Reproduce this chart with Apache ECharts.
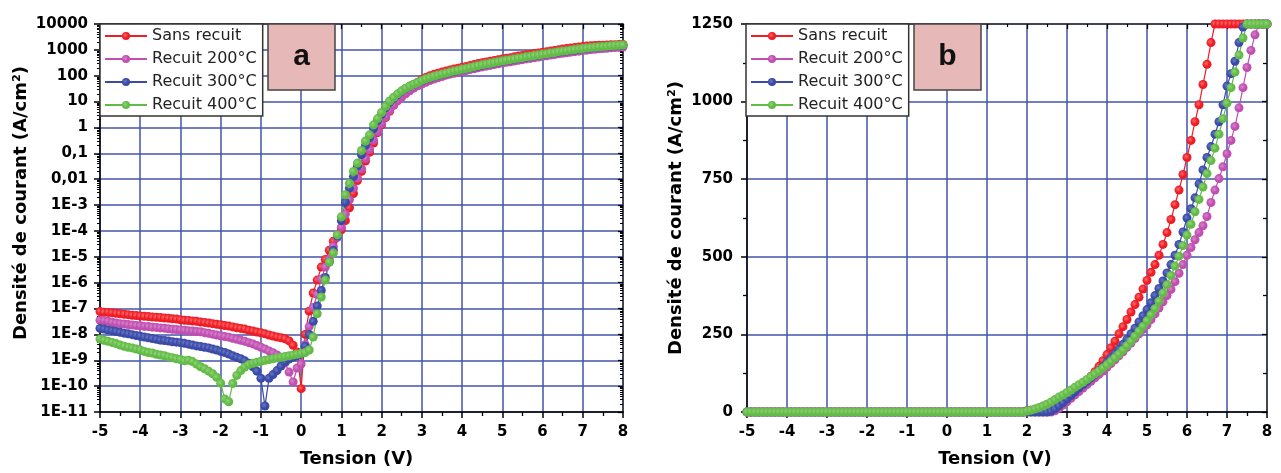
<!DOCTYPE html>
<html><head><meta charset="utf-8">
<script src="https://cdn.jsdelivr.net/npm/echarts@6/dist/echarts.min.js"></script>
<style>html,body{margin:0;padding:0;background:#fff}#c{width:1281px;height:473px}</style>
</head><body><div id="c"></div>
<script>
// ---------- DATA ----------
const voltage = [
-5.0,-4.9,-4.8,-4.7,-4.6,-4.5,-4.4,-4.3,-4.2,-4.1,
-4.0,-3.9,-3.8,-3.7,-3.6,-3.5,-3.4,-3.3,-3.2,-3.1,
-3.0,-2.9,-2.8,-2.7,-2.6,-2.5,-2.4,-2.3,-2.2,-2.1,
-2.0,-1.9,-1.8,-1.7,-1.6,-1.5,-1.4,-1.3,-1.2,-1.1,
-1.0,-0.9,-0.8,-0.7,-0.6,-0.5,-0.4,-0.3,-0.2,-0.1,
0.0,
0.1,0.2,0.3,0.4,0.5,0.6,0.7,0.8,0.9,1.0,
1.1,1.2,1.3,1.4,1.5,1.6,1.7,1.8,1.9,2.0,
2.1,2.2,2.3,2.4,2.5,2.6,2.7,2.8,2.9,3.0,
3.1,3.2,3.3,3.4,3.5,3.6,3.7,3.8,3.9,4.0,
4.1,4.2,4.3,4.4,4.5,4.6,4.7,4.8,4.9,5.0,
5.1,5.2,5.3,5.4,5.5,5.6,5.7,5.8,5.9,6.0,
6.1,6.2,6.3,6.4,6.5,6.6,6.7,6.8,6.9,7.0,
7.1,7.2,7.3,7.4,7.5,7.6,7.7,7.8,7.9,8.0
];

const seriesNames = ['Sans recuit', 'Recuit 200°C', 'Recuit 300°C', 'Recuit 400°C'];

// Panel a : current density (A/cm²), log scale
const aSans = [
7.6e-8,7.2e-8,7.1e-8,6.8e-8,6.5e-8,6.3e-8,6.0e-8,5.8e-8,5.5e-8,5.4e-8,
5.1e-8,5.0e-8,4.9e-8,4.7e-8,4.6e-8,4.5e-8,4.3e-8,4.2e-8,4.0e-8,3.9e-8,
3.7e-8,3.5e-8,3.45e-8,3.3e-8,3.2e-8,3.0e-8,2.9e-8,2.75e-8,2.6e-8,2.45e-8,
2.35e-8,2.2e-8,2.1e-8,1.95e-8,1.8e-8,1.7e-8,1.6e-8,1.45e-8,1.35e-8,1.23e-8,
1.15e-8,1.05e-8,9.5e-9,8.7e-9,7.9e-9,7.4e-9,6.8e-9,5.6e-9,3.8e-9,2.1e-9,
8e-11,
1e-8,7.9e-8,4e-7,1.26e-6,4e-6,7.9e-6,1.8e-5,4e-5,7e-5,1.1e-4,
2.5e-4,7.9e-4,2.8e-3,8.9e-3,0.02,0.05,0.11,0.25,0.63,1.26,
2.4,4.2,7.4,11.5,17,24,33,44,56,72,
86,100,113,126,138,151,166,181,194,214,
229,251,269,294,316,338,362,389,416,446,
478,500,536,575,601,644,674,724,757,811,
850,911,953,1021,1069,1120,1172,1228,1286,1346,
1400,1440,1470,1500,1520,1540,1560,1580,1600,1620
];
const a200 = [
3.5e-8,3.4e-8,3.2e-8,2.95e-8,2.75e-8,2.6e-8,2.5e-8,2.4e-8,2.3e-8,2.2e-8,
2.14e-8,2.04e-8,2.0e-8,1.9e-8,1.86e-8,1.78e-8,1.74e-8,1.66e-8,1.58e-8,1.55e-8,
1.48e-8,1.45e-8,1.38e-8,1.35e-8,1.29e-8,1.26e-8,1.17e-8,1.1e-8,1.02e-8,9.5e-9,
8.9e-9,8.3e-9,7.8e-9,7.1e-9,6.5e-9,5.9e-9,5.4e-9,4.8e-9,4.3e-9,3.7e-9,
3.2e-9,2.75e-9,2.3e-9,1.95e-9,1.6e-9,1.2e-9,7.9e-10,3.5e-10,1.45e-10,5e-10,
7.1e-10,
4e-9,2e-8,1.1e-7,3.5e-7,1.4e-6,4e-6,7.9e-6,2.5e-5,5.6e-5,1.4e-4,
4.5e-4,1.6e-3,4.5e-3,0.011,0.025,0.063,0.14,0.32,0.7,1.4,
2.6,4.5,7.2,10.7,15,20,26,33,41,48,
56,65,74,83,93,105,115,125,135,148,
158,174,186,204,219,234,251,269,288,309,
331,347,372,398,417,447,468,501,525,562,
589,631,661,708,741,776,813,851,891,933,
977,1023,1047,1096,1122,1148,1202,1230,1259,1288
];
const a300 = [
1.7e-8,1.6e-8,1.48e-8,1.38e-8,1.29e-8,1.2e-8,1.12e-8,1.05e-8,9.8e-9,9.1e-9,
8.5e-9,7.9e-9,7.4e-9,6.9e-9,6.5e-9,6.0e-9,5.8e-9,5.5e-9,5.2e-9,5.0e-9,
4.8e-9,4.5e-9,4.2e-9,3.9e-9,3.6e-9,3.4e-9,3.2e-9,3.0e-9,2.7e-9,2.5e-9,
2.2e-9,2.0e-9,1.74e-9,1.5e-9,1.3e-9,1.15e-9,9.5e-10,7.6e-10,5.6e-10,3.8e-10,
2.0e-10,1.7e-11,2.0e-10,2.8e-10,4.0e-10,6.0e-10,8.7e-10,1.12e-9,1.3e-9,1.5e-9,
1.74e-9,
3.5e-9,1e-8,3.2e-8,1.26e-7,5e-7,1.6e-6,6.3e-6,1.8e-5,6.3e-5,2.5e-4,
1.26e-3,4.5e-3,0.0126,0.032,0.089,0.2,0.4,0.89,1.8,3.2,
5.8,9.3,13.5,18.6,25,32,39,46,54,63,
74,82,92,102,112,122,134,146,157,173,
185,203,217,238,255,274,293,314,337,361,
386,404,434,465,486,521,545,585,612,656,
687,736,770,825,864,905,948,992,1040,1088,
1140,1193,1221,1278,1309,1339,1402,1435,1469,1503
];
const a400 = [
6.6e-9,5.9e-9,5.4e-9,4.9e-9,4.4e-9,3.9e-9,3.5e-9,3.2e-9,3.0e-9,2.7e-9,
2.5e-9,2.2e-9,2.0e-9,1.9e-9,1.7e-9,1.6e-9,1.5e-9,1.35e-9,1.26e-9,1.15e-9,
1.07e-9,9.5e-10,1.0e-9,8.9e-10,7.1e-10,5.6e-10,4.7e-10,3.8e-10,3.0e-10,2.2e-10,
1.3e-10,3.2e-11,2.5e-11,1.26e-10,2.6e-10,4.0e-10,5.5e-10,6.8e-10,7.6e-10,8.3e-10,
9.1e-10,1.0e-9,1.07e-9,1.15e-9,1.23e-9,1.3e-9,1.4e-9,1.5e-9,1.6e-9,1.7e-9,
1.85e-9,
2.0e-9,2.5e-9,7.9e-9,6.3e-8,2.8e-7,1.26e-6,6.3e-6,1.4e-5,7e-5,3.5e-4,
2.5e-3,7e-3,0.02,0.042,0.13,0.3,0.52,1.26,2.2,3.8,
6.6,10.5,14.8,20,26,33,40,47,55,66,
76,85,95,105,115,126,138,151,162,178,
191,209,224,245,263,282,302,324,347,372,
398,417,447,479,501,537,562,603,631,676,
708,759,794,851,891,933,977,1023,1072,1122,
1175,1230,1259,1318,1349,1380,1445,1479,1514,1549
];

// Panel b : current density (A/cm²), linear scale
const bSans = [
0,0,0,0,0,0,0,0,0,0, 0,0,0,0,0,0,0,0,0,0, 0,0,0,0,0,0,0,0,0,0,
0,0,0,0,0,0,0,0,0,0, 0,0,0,0,0,0,0,0,0,0, 0,
0,0,0,0,0,0,0,0,0,0, 0,0,0,0,0,0,0,0,0,
4,6,9,13,18,24,30,37,44,51,
58,65,72,80,90,100,115,130,147,165,
185,207,228,252,275,298,322,346,370,396,
424,450,475,505,540,578,620,668,715,765,
820,875,935,990,1055,1120,1190,1250,1250,1250,
1250,1250,1250,1250,1250,1250,1250,1250,1250,1250,1250
];
const b200 = [
0,0,0,0,0,0,0,0,0,0, 0,0,0,0,0,0,0,0,0,0, 0,0,0,0,0,0,0,0,0,0,
0,0,0,0,0,0,0,0,0,0, 0,0,0,0,0,0,0,0,0,0, 0,
0,0,0,0,0,0,0,0,0,0, 0,0,0,0,0,0,0,0,0,
0,0,0,0,0,0,0,4,12,22,
33,44,55,66,77,88,99,110,121,132,
144,156,168,181,194,208,222,237,252,266,
280,298,316,335,355,375,395,420,447,475,
505,530,555,578,600,630,675,715,752,790,
832,875,920,980,1045,1110,1165,1215,1250,1250,1250
];
const b300 = [
0,0,0,0,0,0,0,0,0,0, 0,0,0,0,0,0,0,0,0,0, 0,0,0,0,0,0,0,0,0,0,
0,0,0,0,0,0,0,0,0,0, 0,0,0,0,0,0,0,0,0,0, 0,
0,0,0,0,0,0,0,0,0,0, 0,0,0,0,0,0,0,0,0,
0,0,0,0,0,0,3,10,20,30,
42,53,65,77,88,99,110,121,133,146,
160,174,188,203,218,234,252,270,290,310,
330,352,375,398,422,448,475,505,540,580,
625,655,690,735,780,820,855,895,935,990,
1050,1090,1130,1190,1240,1250,1250,1250,1250,1250,1250
];
const b400 = [
0,0,0,0,0,0,0,0,0,0, 0,0,0,0,0,0,0,0,0,0, 0,0,0,0,0,0,0,0,0,0,
0,0,0,0,0,0,0,0,0,0, 0,0,0,0,0,0,0,0,0,0, 0,
0,0,0,0,0,0,0,0,0,0, 0,0,0,0,0,0,0,0,0,
3,6,10,14,19,25,32,40,48,55,
63,71,80,88,96,105,114,123,132,142,
152,163,175,187,200,214,228,244,260,276,
294,313,333,357,383,410,440,470,502,536,
570,605,645,685,725,768,810,850,895,945,
995,1045,1095,1150,1205,1250,1250,1250,1250,1250,1250
];

// tick labels of the log axis, from 1E-11 up to 10000
const logTickLabels = ['1E-11','1E-10','1E-9','1E-8','1E-7','1E-6','1E-5','1E-4','1E-3','0,01','0,1','1','10','100','1000','10000'];
const panelLetters = ['a', 'b'];

// ---------- STYLE ----------
const colors = ['#ee1c25', '#c04fb0', '#3a4aa5', '#62bb46'];
const lightColors = ['#ff6a6a', '#d884cc', '#6878c8', '#92d47a'];
const FONT = 'DejaVu Sans';
const gridColor = '#4254ad';
const lblStyle = { fontFamily: FONT, fontWeight: 'bold', fontSize: 15, color: '#000' };
const nameStyle = { fontFamily: FONT, fontWeight: 'bold', fontSize: 18, color: '#000' };

function bottomX(gi, pad) {
  return {
    gridIndex: gi, type: 'value', min: -5, max: 8, interval: 1, position: 'bottom',
    axisLine: { show: true, onZero: false, lineStyle: { color: '#000', width: 1.5 } },
    axisTick: { show: true, inside: false, length: 6, lineStyle: { color: '#000', width: 1.5 } },
    minorTick: { show: true, splitNumber: 2, length: 4, lineStyle: { color: '#000', width: 1.3 } },
    axisLabel: Object.assign({ margin: 13 }, lblStyle),
    splitLine: { show: true, lineStyle: { color: gridColor, width: 1.5 } },
    name: 'Tension (V)', nameLocation: 'middle', nameGap: 38,
    nameTextStyle: Object.assign({ padding: pad }, nameStyle)
  };
}
function topX(gi) {
  return {
    gridIndex: gi, type: 'value', min: -5, max: 8, interval: 1, position: 'top',
    axisLine: { show: true, onZero: false, lineStyle: { color: '#333', width: 1.5 } },
    axisTick: { show: true, inside: true, length: 5, lineStyle: { color: '#000', width: 1.3 } },
    minorTick: { show: true, splitNumber: 2, length: 3, lineStyle: { color: '#000', width: 1.2 } },
    axisLabel: { show: false }, splitLine: { show: false }
  };
}

function makeSeries(arr, k, xi, yi) {
  return {
    name: seriesNames[k], type: 'line', xAxisIndex: xi, yAxisIndex: yi,
    data: voltage.map((v, i) => [v, arr[i]]),
    symbol: 'circle', symbolSize: 9, showSymbol: true, clip: false,
    lineStyle: { color: colors[k], width: 1.2 },
    itemStyle: { color: { type: 'radial', x: 0.4, y: 0.4, r: 0.6,
      colorStops: [{ offset: 0, color: lightColors[k] }, { offset: 0.6, color: colors[k] }, { offset: 1, color: colors[k] }] } },
    emphasis: { disabled: true }, animation: false
  };
}

const legendBase = {
  orient: 'vertical', top: 24, itemWidth: 42, itemHeight: 10, itemGap: 7,
  padding: [4, 6, 3, 4], backgroundColor: '#fff', borderColor: '#333', borderWidth: 1.5,
  textStyle: { fontFamily: FONT, fontSize: 16, color: '#222', lineHeight: 16 },
  data: seriesNames, selectedMode: false
};

function letterBox(x, letter) {
  return [
    { type: 'rect', z: 100, shape: { x: x, y: 24, width: 67, height: 66 },
      style: { fill: '#e6b8b7', stroke: '#444', lineWidth: 1.5 } },
    { type: 'text', z: 101, x: x + 33.5, y: 57,
      style: { text: letter, font: 'bold 30px "Liberation Sans"', fill: '#111', align: 'center', verticalAlign: 'middle' } }
  ];
}

const chart = echarts.init(document.getElementById('c'), null, { renderer: 'canvas' });
chart.setOption({
  animation: false,
  backgroundColor: '#fff',
  grid: [
    { left: 100, top: 24, width: 523, height: 388 },
    { left: 747, top: 24, width: 520, height: 388 }
  ],
  xAxis: [bottomX(0, [0, 10, 0, 0]), topX(0), bottomX(1, [0, 24, 0, 0]), topX(1)],
  yAxis: [
    { gridIndex: 0, type: 'log', logBase: 10, min: 1e-11, max: 1e4, interval: 1, splitNumber: 15,
      axisLine: { show: true, onZero: false, lineStyle: { color: '#000', width: 1.5 } },
      axisTick: { show: true, inside: false, length: 6, lineStyle: { color: '#000', width: 1.5 } },
      minorTick: { show: true, splitNumber: 9, length: 3, lineStyle: { color: '#000', width: 1 } },
      axisLabel: Object.assign({ margin: 12,
        formatter: v => logTickLabels[Math.round(Math.log10(v)) + 11] }, lblStyle),
      splitLine: { show: true, lineStyle: { color: gridColor, width: 1.5 } },
      name: 'Densité de courant (A/cm²)', nameLocation: 'middle', nameGap: 70, nameRotate: 90,
      nameTextStyle: Object.assign({ padding: [0, 0, 0, 30] }, nameStyle) },
    { gridIndex: 0, type: 'log', logBase: 10, min: 1e-11, max: 1e4, interval: 1, splitNumber: 15, position: 'right',
      axisLine: { show: true, onZero: false, lineStyle: { color: '#333', width: 1.5 } },
      axisTick: { show: true, inside: true, length: 5, lineStyle: { color: '#000', width: 1.3 } },
      minorTick: { show: true, splitNumber: 9, length: 3, lineStyle: { color: '#000', width: 1 } },
      axisLabel: { show: false }, splitLine: { show: false } },
    { gridIndex: 1, type: 'value', min: 0, max: 1250, interval: 250,
      axisLine: { show: true, onZero: false, lineStyle: { color: '#000', width: 1.5 } },
      axisTick: { show: true, inside: false, length: 6, lineStyle: { color: '#000', width: 1.5 } },
      minorTick: { show: true, splitNumber: 2, length: 4, lineStyle: { color: '#000', width: 1.3 } },
      axisLabel: Object.assign({ margin: 14, formatter: v => String(v) }, lblStyle),
      splitLine: { show: true, lineStyle: { color: gridColor, width: 1.5 } },
      name: 'Densité de courant (A/cm²)', nameLocation: 'middle', nameGap: 62, nameRotate: 90,
      nameTextStyle: nameStyle },
    { gridIndex: 1, type: 'value', min: 0, max: 1250, interval: 250, position: 'right',
      axisLine: { show: true, onZero: false, lineStyle: { color: '#333', width: 1.5 } },
      axisTick: { show: true, inside: true, length: 5, lineStyle: { color: '#000', width: 1.3 } },
      minorTick: { show: true, splitNumber: 2, length: 4, lineStyle: { color: '#000', width: 1.3 } },
      axisLabel: { show: false }, splitLine: { show: false } }
  ],
  legend: [
    Object.assign({ left: 100 }, legendBase),
    Object.assign({ left: 746 }, legendBase)
  ],
  graphic: letterBox(268, panelLetters[0]).concat(letterBox(914, panelLetters[1])),
  series: [
    makeSeries(aSans, 0, 0, 0), makeSeries(a200, 1, 0, 0), makeSeries(a300, 2, 0, 0), makeSeries(a400, 3, 0, 0),
    makeSeries(bSans, 0, 2, 2), makeSeries(b200, 1, 2, 2), makeSeries(b300, 2, 2, 2), makeSeries(b400, 3, 2, 2)
  ]
});
</script>
</body></html>
